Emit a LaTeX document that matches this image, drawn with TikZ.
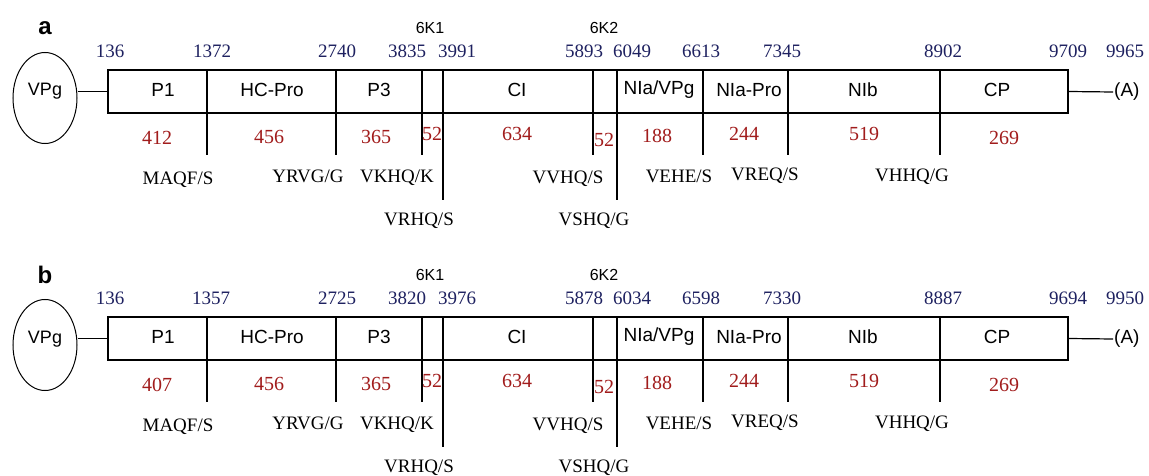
\documentclass[tikz,border=0pt]{standalone}
\usepackage{fontspec}
\setmainfont{Liberation Serif}
\setsansfont{Liberation Sans}
\usetikzlibrary{shapes.geometric}
\definecolor{ponavy}{HTML}{1E2160}
\definecolor{pored}{HTML}{A11C1C}

\begin{document}
\begin{tikzpicture}[x=1pt,y=-1pt,
    panel/.style={font=\fontsize{24}{28}\selectfont\sffamily\bfseries},
    vpgcap/.style={draw,ellipse,line width=1pt,minimum width=64pt,minimum height=91pt,inner sep=0pt,font=\fontsize{18}{21}\selectfont\sffamily},
    polybox/.style={draw,line width=1.2pt,minimum width=960pt,minimum height=43pt,inner sep=0pt},
    protein/.style={font=\fontsize{19}{22}\selectfont\sffamily},
    ntpos/.style={font=\fontsize{19}{22}\selectfont,text=ponavy},
    aalen/.style={font=\fontsize{20}{24}\selectfont,text=pored},
    cleave/.style={font=\fontsize{19}{22}\selectfont},
    kname/.style={font=\fontsize{16}{19}\selectfont\sffamily},
    cut/.style={line width=1.2pt}
  ]
    \useasboundingbox (0,0) rectangle (1149,476);
    \foreach \p/\dy/\pone in {a/0/412,b/247/407}{
      \begin{scope}[yshift=-\dy pt]
        \node[panel] (lab-\p) at (45,28) {\p};
        \node[vpgcap] (vpg-\p) at (45,98) {\raisebox{2pt}[0pt][0pt]{VPg}};
        \node[polybox] (poly-\p) at (588,91.5) {};
        \node[protein,anchor=west,inner sep=1pt] (polya-\p) at (1113,92) {(A)};
        \draw[cut] (vpg-\p.east |- poly-\p.west) -- (poly-\p.west);
        \draw[cut] (poly-\p.east) -- (polya-\p.west);
        \foreach \x/\e in {207/155,336/155,422/155,443/200,593/155,617/200,703/155,788/155,940/155}
          \draw[cut] (\x,70) -- (\x,\e);
        \node[kname] (k1-\p) at (430,28) {6K1};
        \node[kname] (k2-\p) at (604,28) {6K2};
        \foreach \x/\t in {163/P1,272/HC-Pro,379/P3,517/CI,659/{NIa/VPg},749/NIa-Pro,863/NIb,997/CP}
          \node[protein] (prot-\p-\x) at (\x,90) {\t};
        \foreach \x/\y/\n in {157/138/\pone,269/137/456,376/137/365,432/134/52,517/134/634,604/140/52,657/136/188,744/134/244,864/134/519,1004/138/269}
          \node[aalen] (len-\p-\x) at (\x,\y) {\n};
        \foreach \x/\y/\t in {178/180/{MAQF/S},308/176/{YRVG/G},397/178/{VKHQ/K},419/221/{VRHQ/S},568/179/{VVHQ/S},594/221/{VSHQ/G},679/176/{VEHE/S},765/176/{VREQ/S},912/177/{VHHQ/G}}
          \node[cleave] (site-\p-\x) at (\x,\y) {\t};
      \end{scope}
    }
    \foreach \x/\n in {110/136,212/1372,337/2740,407/3835,457/3991,584/5893,632/6049,701/6613,782/7345,943/8902,1068/9709,1125/9965}
      \node[ntpos] (pa-\n) at (\x,51) {\n};
    \foreach \x/\n in {110/136,211/1357,337/2725,407/3820,457/3976,584/5878,632/6034,701/6598,782/7330,943/8887,1068/9694,1125/9950}
      \node[ntpos] (pb-\n) at (\x,298) {\n};
  \end{tikzpicture}
\end{document}
